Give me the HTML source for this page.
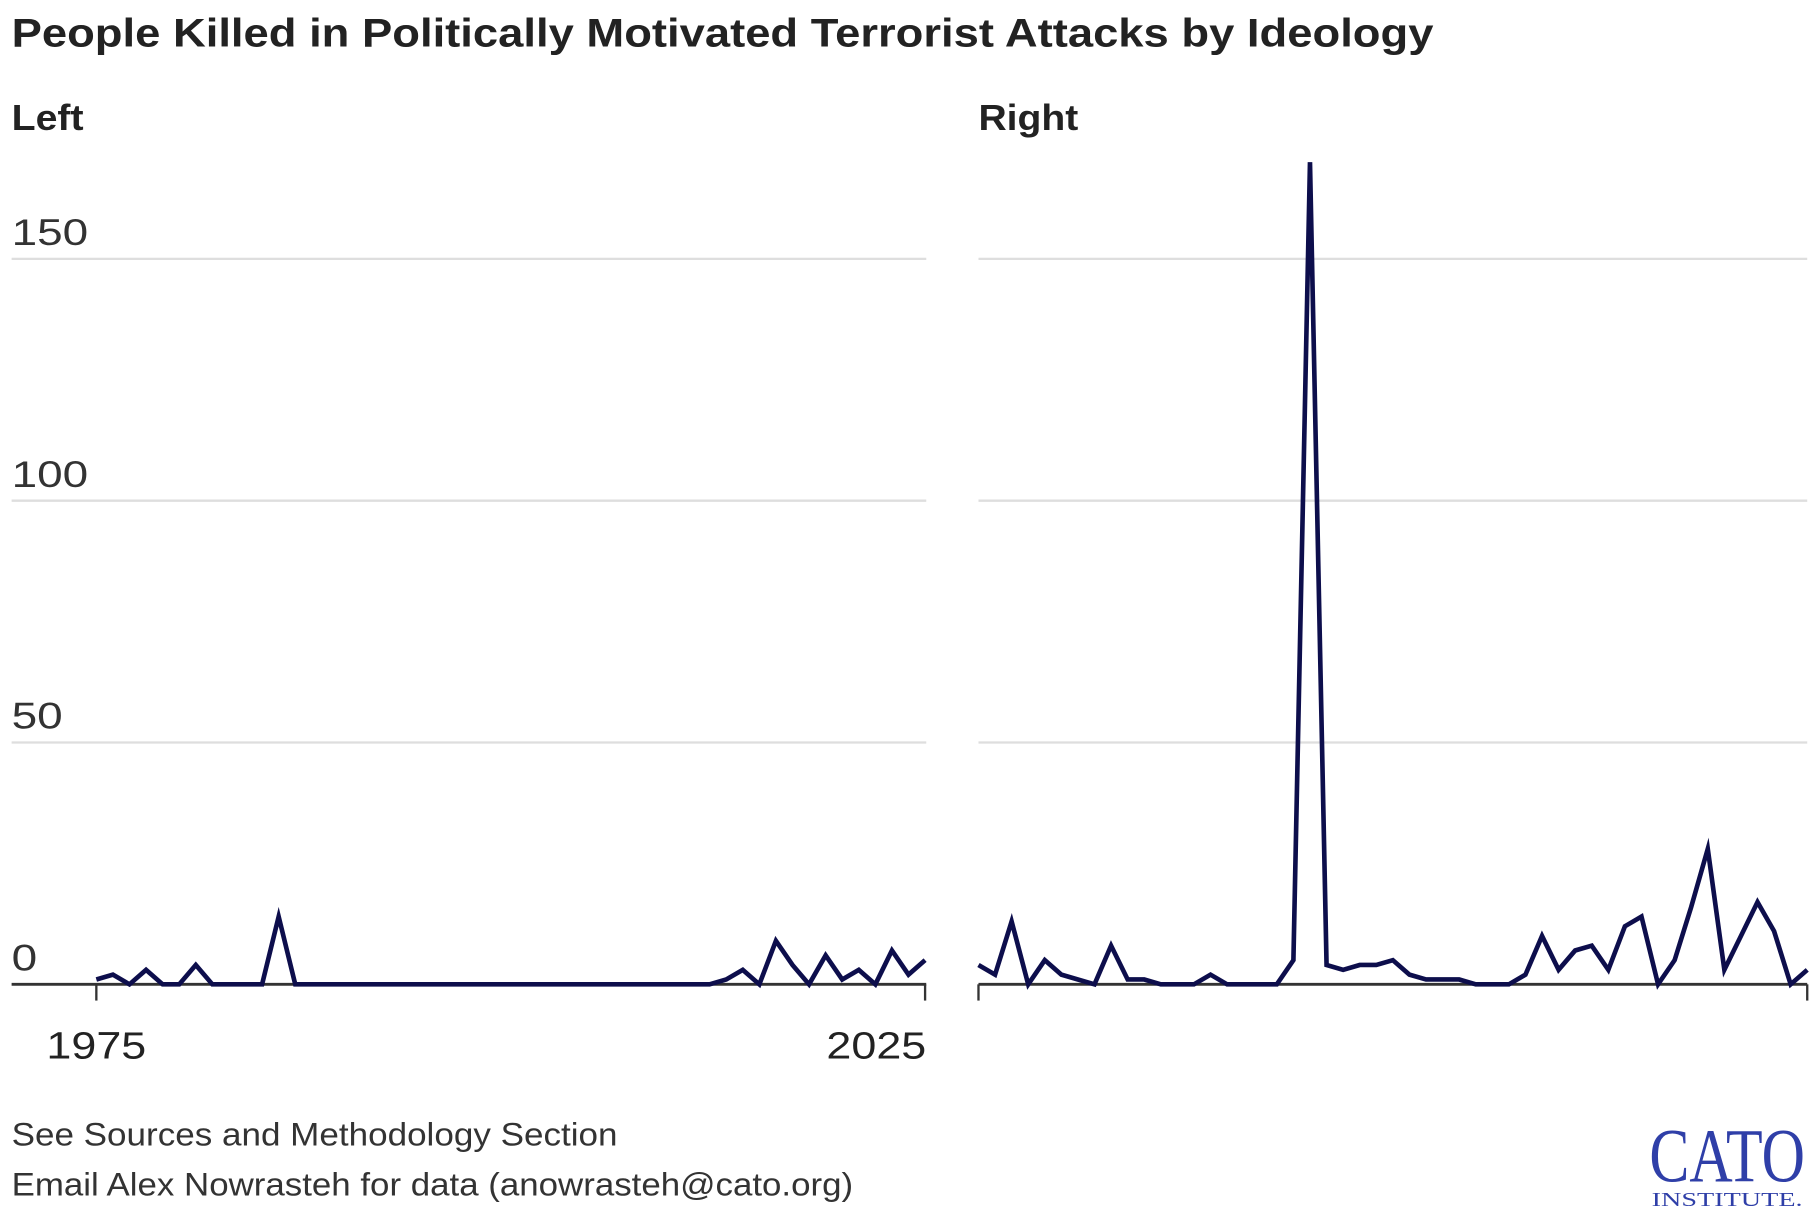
<!DOCTYPE html>
<html><head><meta charset="utf-8"><style>
html,body{margin:0;padding:0;background:#fff;}
svg{display:block;font-family:"Liberation Sans",sans-serif;}
</style></head><body>
<svg id="chart" width="1820" height="1220" viewBox="0 0 1568 1051" xmlns="http://www.w3.org/2000/svg">
<rect width="1568" height="1051" fill="#fff"/>
<text x="10" y="40" font-size="34" font-weight="bold" fill="#222" textLength="1225" lengthAdjust="spacingAndGlyphs">People Killed in Politically Motivated Terrorist Attacks by Ideology</text>
<text x="10" y="112" font-size="31" font-weight="bold" fill="#222" textLength="62" lengthAdjust="spacingAndGlyphs">Left</text>
<text x="843" y="112" font-size="31" font-weight="bold" fill="#222" textLength="86" lengthAdjust="spacingAndGlyphs">Right</text>
<g id="grid"></g>
<g id="marks"></g>
<text x="10" y="987" font-size="28" fill="#333" textLength="522" lengthAdjust="spacingAndGlyphs">See Sources and Methodology Section</text>
<text x="10" y="1030" font-size="28" fill="#333" textLength="725" lengthAdjust="spacingAndGlyphs">Email Alex Nowrasteh for data (anowrasteh@cato.org)</text>
<g>
<text x="1488" y="1018" font-family="Liberation Serif,serif" font-size="66" fill="#2f3fa8" text-anchor="middle" textLength="134" lengthAdjust="spacingAndGlyphs">CATO</text>
<text x="1488" y="1039" font-family="Liberation Serif,serif" font-size="17" fill="#2f3fa8" text-anchor="middle" textLength="130" lengthAdjust="spacingAndGlyphs">INSTITUTE.</text>
</g>
</svg>
<script>
const years = [];
for (let y = 1975; y <= 2025; y++) years.push(y);
const leftValues = [1,2,0,3,0,0,4,0,0,0,0,14,0,0,0,0,0,0,0,0,0,0,0,0,0,0,0,0,0,0,0,0,0,0,0,0,0,0,1,3,0,9,4,0,6,1,3,0,7,2,5];
const rightValues = [4,2,13,0,5,2,1,0,8,1,1,0,0,0,2,0,0,0,0,5,170,4,3,4,4,5,2,1,1,1,0,0,0,2,10,3,7,8,3,12,14,0,5,16,28,3,10,17,11,0,3];
const yTicks = [0,50,100,150];
const xTickLabels = [1975,2025];

const NS = "http://www.w3.org/2000/svg";
const grid = document.getElementById('grid');
const marks = document.getElementById('marks');
const yScale = v => 848 - v * (848 - 223) / 150;
function mk(tag, attrs, parent) {
  const e = document.createElementNS(NS, tag);
  for (const k in attrs) e.setAttribute(k, attrs[k]);
  parent.appendChild(e);
  return e;
}
const panels = [
  {name: 'left', gx0: 10, gx1: 798, x0: 83, x1: 797, values: leftValues, labels: true},
  {name: 'right', gx0: 843, gx1: 1557, x0: 843, x1: 1557, values: rightValues, labels: false}
];
panels.forEach(p => {
  const xScale = yr => p.x0 + (yr - years[0]) * (p.x1 - p.x0) / (years[years.length-1] - years[0]);
  yTicks.forEach(t => {
    if (t > 0) {
      const g = mk('line', {x1: p.gx0, x2: p.gx1, y1: yScale(t), y2: yScale(t), stroke: '#dedede', 'stroke-width': 2}, grid);
      
      
    }
    if (p.labels) {
      const tx = mk('text', {x: 10, y: yScale(t) - 12, 'font-size': 32, fill: '#333', textLength: String(t).length * 22, lengthAdjust: 'spacingAndGlyphs'}, grid);
      tx.textContent = t;
      
      
    }
  });
  const ax = mk('line', {x1: p.gx0, x2: p.gx1, y1: 848, y2: 848, stroke: '#333', 'stroke-width': 2.5}, grid);
  
  
  xTickLabels.forEach(yr => {
    const tk = mk('line', {x1: xScale(yr), x2: xScale(yr), y1: 848, y2: 862, stroke: '#333', 'stroke-width': 2}, grid);
    
    
    if (p.labels) {
      const tx = mk('text', {x: xScale(yr), y: 912, 'font-size': 33, fill: '#222', 'text-anchor': yr === 2025 ? 'end' : 'middle', textLength: 86, lengthAdjust: 'spacingAndGlyphs'}, grid);
      if (yr === 2025) tx.setAttribute('x', xScale(yr) + 1);
      tx.textContent = yr;
      
      
    }
  });
  const d = p.values.map((v, i) => (i ? 'L' : 'M') + xScale(years[i]).toFixed(2) + ',' + yScale(v).toFixed(2)).join(' ');
  const path = mk('path', {d: d, fill: 'none', stroke: '#0d0e4c', 'stroke-width': 4, 'stroke-linejoin': 'miter', 'stroke-miterlimit': 20}, marks);
  
  
});
</script>
</body></html>
